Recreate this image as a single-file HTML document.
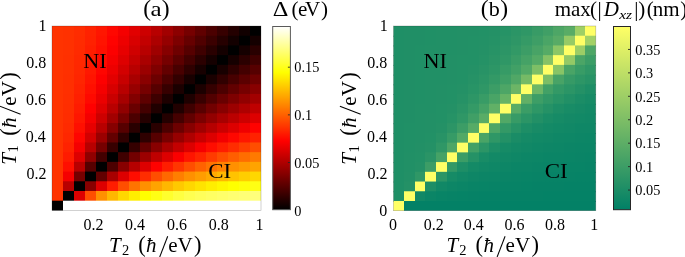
<!DOCTYPE html>
<html><head><meta charset="utf-8"><style>
html,body{margin:0;padding:0;background:#fff;width:685px;height:257px;overflow:hidden}
svg{display:block;will-change:transform}
text{font-family:"Liberation Serif",serif;fill:#000}
</style></head><body>
<svg width="685" height="257" viewBox="0 0 685 257">
<defs><linearGradient id="ga" x1="0" y1="0" x2="0" y2="1"><stop offset="0.0000" stop-color="#ffffff"/><stop offset="0.0208" stop-color="#ffffea"/><stop offset="0.0417" stop-color="#ffffd5"/><stop offset="0.0625" stop-color="#ffffbf"/><stop offset="0.0833" stop-color="#ffffaa"/><stop offset="0.1042" stop-color="#ffff95"/><stop offset="0.1250" stop-color="#ffff80"/><stop offset="0.1458" stop-color="#ffff6a"/><stop offset="0.1667" stop-color="#ffff55"/><stop offset="0.1875" stop-color="#ffff40"/><stop offset="0.2083" stop-color="#ffff2a"/><stop offset="0.2292" stop-color="#ffff15"/><stop offset="0.2500" stop-color="#ffff00"/><stop offset="0.2708" stop-color="#fff100"/><stop offset="0.2917" stop-color="#ffe300"/><stop offset="0.3125" stop-color="#ffd400"/><stop offset="0.3333" stop-color="#ffc600"/><stop offset="0.3542" stop-color="#ffb800"/><stop offset="0.3750" stop-color="#ffaa00"/><stop offset="0.3958" stop-color="#ff9c00"/><stop offset="0.4167" stop-color="#ff8e00"/><stop offset="0.4375" stop-color="#ff8000"/><stop offset="0.4583" stop-color="#ff7100"/><stop offset="0.4792" stop-color="#ff6300"/><stop offset="0.5000" stop-color="#ff5500"/><stop offset="0.5208" stop-color="#ff4700"/><stop offset="0.5417" stop-color="#ff3900"/><stop offset="0.5625" stop-color="#ff2b00"/><stop offset="0.5833" stop-color="#ff1c00"/><stop offset="0.6042" stop-color="#ff0e00"/><stop offset="0.6250" stop-color="#ff0000"/><stop offset="0.6458" stop-color="#f10000"/><stop offset="0.6667" stop-color="#e30000"/><stop offset="0.6875" stop-color="#d40000"/><stop offset="0.7083" stop-color="#c60000"/><stop offset="0.7292" stop-color="#b80000"/><stop offset="0.7500" stop-color="#aa0000"/><stop offset="0.7708" stop-color="#9c0000"/><stop offset="0.7917" stop-color="#8e0000"/><stop offset="0.8125" stop-color="#800000"/><stop offset="0.8333" stop-color="#710000"/><stop offset="0.8542" stop-color="#630000"/><stop offset="0.8750" stop-color="#550000"/><stop offset="0.8958" stop-color="#470000"/><stop offset="0.9167" stop-color="#390000"/><stop offset="0.9375" stop-color="#2a0000"/><stop offset="0.9583" stop-color="#1c0000"/><stop offset="0.9792" stop-color="#0e0000"/><stop offset="1.0000" stop-color="#000000"/></linearGradient><linearGradient id="gb" x1="0" y1="0" x2="0" y2="1"><stop offset="0.0000" stop-color="#ffff66"/><stop offset="0.1250" stop-color="#dfef66"/><stop offset="0.2500" stop-color="#bfdf66"/><stop offset="0.3750" stop-color="#9fcf66"/><stop offset="0.5000" stop-color="#80bf66"/><stop offset="0.6250" stop-color="#60af66"/><stop offset="0.7500" stop-color="#409f66"/><stop offset="0.8750" stop-color="#208f66"/><stop offset="1.0000" stop-color="#008066"/></linearGradient></defs>
<defs><linearGradient id="car0" gradientUnits="userSpaceOnUse" x1="52.00" y1="0" x2="261.00" y2="0"><stop offset="0.00000" stop-color="#ff3300"/><stop offset="0.05263" stop-color="#ff3300"/><stop offset="0.05263" stop-color="#ff3100"/><stop offset="0.10526" stop-color="#ff3100"/><stop offset="0.10526" stop-color="#ff2c00"/><stop offset="0.15789" stop-color="#ff2c00"/><stop offset="0.15789" stop-color="#ff2200"/><stop offset="0.21053" stop-color="#ff2200"/><stop offset="0.21053" stop-color="#ff1600"/><stop offset="0.26316" stop-color="#ff1600"/><stop offset="0.26316" stop-color="#ff0700"/><stop offset="0.31579" stop-color="#ff0700"/><stop offset="0.31579" stop-color="#f50000"/><stop offset="0.36842" stop-color="#f50000"/><stop offset="0.36842" stop-color="#e20000"/><stop offset="0.42105" stop-color="#e20000"/><stop offset="0.42105" stop-color="#cd0000"/><stop offset="0.47368" stop-color="#cd0000"/><stop offset="0.47368" stop-color="#b80000"/><stop offset="0.52632" stop-color="#b80000"/><stop offset="0.52632" stop-color="#a20000"/><stop offset="0.57895" stop-color="#a20000"/><stop offset="0.57895" stop-color="#8c0000"/><stop offset="0.63158" stop-color="#8c0000"/><stop offset="0.63158" stop-color="#760000"/><stop offset="0.68421" stop-color="#760000"/><stop offset="0.68421" stop-color="#600000"/><stop offset="0.73684" stop-color="#600000"/><stop offset="0.73684" stop-color="#4b0000"/><stop offset="0.78947" stop-color="#4b0000"/><stop offset="0.78947" stop-color="#370000"/><stop offset="0.84211" stop-color="#370000"/><stop offset="0.84211" stop-color="#240000"/><stop offset="0.89474" stop-color="#240000"/><stop offset="0.89474" stop-color="#110000"/><stop offset="0.94737" stop-color="#110000"/><stop offset="0.94737" stop-color="#000000"/><stop offset="1.00000" stop-color="#000000"/></linearGradient><linearGradient id="car1" gradientUnits="userSpaceOnUse" x1="52.00" y1="0" x2="261.00" y2="0"><stop offset="0.00000" stop-color="#ff3300"/><stop offset="0.05263" stop-color="#ff3300"/><stop offset="0.05263" stop-color="#ff3100"/><stop offset="0.10526" stop-color="#ff3100"/><stop offset="0.10526" stop-color="#ff2b00"/><stop offset="0.15789" stop-color="#ff2b00"/><stop offset="0.15789" stop-color="#ff2100"/><stop offset="0.21053" stop-color="#ff2100"/><stop offset="0.21053" stop-color="#ff1300"/><stop offset="0.26316" stop-color="#ff1300"/><stop offset="0.26316" stop-color="#ff0200"/><stop offset="0.31579" stop-color="#ff0200"/><stop offset="0.31579" stop-color="#ee0000"/><stop offset="0.36842" stop-color="#ee0000"/><stop offset="0.36842" stop-color="#d90000"/><stop offset="0.42105" stop-color="#d90000"/><stop offset="0.42105" stop-color="#c30000"/><stop offset="0.47368" stop-color="#c30000"/><stop offset="0.47368" stop-color="#ac0000"/><stop offset="0.52632" stop-color="#ac0000"/><stop offset="0.52632" stop-color="#950000"/><stop offset="0.57895" stop-color="#950000"/><stop offset="0.57895" stop-color="#7d0000"/><stop offset="0.63158" stop-color="#7d0000"/><stop offset="0.63158" stop-color="#660000"/><stop offset="0.68421" stop-color="#660000"/><stop offset="0.68421" stop-color="#500000"/><stop offset="0.73684" stop-color="#500000"/><stop offset="0.73684" stop-color="#3b0000"/><stop offset="0.78947" stop-color="#3b0000"/><stop offset="0.78947" stop-color="#260000"/><stop offset="0.84211" stop-color="#260000"/><stop offset="0.84211" stop-color="#130000"/><stop offset="0.89474" stop-color="#130000"/><stop offset="0.89474" stop-color="#000000"/><stop offset="0.94737" stop-color="#000000"/><stop offset="0.94737" stop-color="#140000"/><stop offset="1.00000" stop-color="#140000"/></linearGradient><linearGradient id="car2" gradientUnits="userSpaceOnUse" x1="52.00" y1="0" x2="261.00" y2="0"><stop offset="0.00000" stop-color="#ff3300"/><stop offset="0.05263" stop-color="#ff3300"/><stop offset="0.05263" stop-color="#ff3100"/><stop offset="0.10526" stop-color="#ff3100"/><stop offset="0.10526" stop-color="#ff2a00"/><stop offset="0.15789" stop-color="#ff2a00"/><stop offset="0.15789" stop-color="#ff1e00"/><stop offset="0.21053" stop-color="#ff1e00"/><stop offset="0.21053" stop-color="#ff0f00"/><stop offset="0.26316" stop-color="#ff0f00"/><stop offset="0.26316" stop-color="#fc0000"/><stop offset="0.31579" stop-color="#fc0000"/><stop offset="0.31579" stop-color="#e70000"/><stop offset="0.36842" stop-color="#e70000"/><stop offset="0.36842" stop-color="#d00000"/><stop offset="0.42105" stop-color="#d00000"/><stop offset="0.42105" stop-color="#b80000"/><stop offset="0.47368" stop-color="#b80000"/><stop offset="0.47368" stop-color="#9f0000"/><stop offset="0.52632" stop-color="#9f0000"/><stop offset="0.52632" stop-color="#860000"/><stop offset="0.57895" stop-color="#860000"/><stop offset="0.57895" stop-color="#6e0000"/><stop offset="0.63158" stop-color="#6e0000"/><stop offset="0.63158" stop-color="#560000"/><stop offset="0.68421" stop-color="#560000"/><stop offset="0.68421" stop-color="#3f0000"/><stop offset="0.73684" stop-color="#3f0000"/><stop offset="0.73684" stop-color="#290000"/><stop offset="0.78947" stop-color="#290000"/><stop offset="0.78947" stop-color="#140000"/><stop offset="0.84211" stop-color="#140000"/><stop offset="0.84211" stop-color="#000000"/><stop offset="0.89474" stop-color="#000000"/><stop offset="0.89474" stop-color="#150000"/><stop offset="0.94737" stop-color="#150000"/><stop offset="0.94737" stop-color="#290000"/><stop offset="1.00000" stop-color="#290000"/></linearGradient><linearGradient id="car3" gradientUnits="userSpaceOnUse" x1="52.00" y1="0" x2="261.00" y2="0"><stop offset="0.00000" stop-color="#ff3300"/><stop offset="0.05263" stop-color="#ff3300"/><stop offset="0.05263" stop-color="#ff3000"/><stop offset="0.10526" stop-color="#ff3000"/><stop offset="0.10526" stop-color="#ff2800"/><stop offset="0.15789" stop-color="#ff2800"/><stop offset="0.15789" stop-color="#ff1b00"/><stop offset="0.21053" stop-color="#ff1b00"/><stop offset="0.21053" stop-color="#ff0a00"/><stop offset="0.26316" stop-color="#ff0a00"/><stop offset="0.26316" stop-color="#f50000"/><stop offset="0.31579" stop-color="#f50000"/><stop offset="0.31579" stop-color="#de0000"/><stop offset="0.36842" stop-color="#de0000"/><stop offset="0.36842" stop-color="#c50000"/><stop offset="0.42105" stop-color="#c50000"/><stop offset="0.42105" stop-color="#aa0000"/><stop offset="0.47368" stop-color="#aa0000"/><stop offset="0.47368" stop-color="#900000"/><stop offset="0.52632" stop-color="#900000"/><stop offset="0.52632" stop-color="#760000"/><stop offset="0.57895" stop-color="#760000"/><stop offset="0.57895" stop-color="#5c0000"/><stop offset="0.63158" stop-color="#5c0000"/><stop offset="0.63158" stop-color="#430000"/><stop offset="0.68421" stop-color="#430000"/><stop offset="0.68421" stop-color="#2b0000"/><stop offset="0.73684" stop-color="#2b0000"/><stop offset="0.73684" stop-color="#150000"/><stop offset="0.78947" stop-color="#150000"/><stop offset="0.78947" stop-color="#000000"/><stop offset="0.84211" stop-color="#000000"/><stop offset="0.84211" stop-color="#160000"/><stop offset="0.89474" stop-color="#160000"/><stop offset="0.89474" stop-color="#2b0000"/><stop offset="0.94737" stop-color="#2b0000"/><stop offset="0.94737" stop-color="#3f0000"/><stop offset="1.00000" stop-color="#3f0000"/></linearGradient><linearGradient id="car4" gradientUnits="userSpaceOnUse" x1="52.00" y1="0" x2="261.00" y2="0"><stop offset="0.00000" stop-color="#ff3300"/><stop offset="0.05263" stop-color="#ff3300"/><stop offset="0.05263" stop-color="#ff3000"/><stop offset="0.10526" stop-color="#ff3000"/><stop offset="0.10526" stop-color="#ff2700"/><stop offset="0.15789" stop-color="#ff2700"/><stop offset="0.15789" stop-color="#ff1800"/><stop offset="0.21053" stop-color="#ff1800"/><stop offset="0.21053" stop-color="#ff0500"/><stop offset="0.26316" stop-color="#ff0500"/><stop offset="0.26316" stop-color="#ed0000"/><stop offset="0.31579" stop-color="#ed0000"/><stop offset="0.31579" stop-color="#d30000"/><stop offset="0.36842" stop-color="#d30000"/><stop offset="0.36842" stop-color="#b80000"/><stop offset="0.42105" stop-color="#b80000"/><stop offset="0.42105" stop-color="#9b0000"/><stop offset="0.47368" stop-color="#9b0000"/><stop offset="0.47368" stop-color="#7f0000"/><stop offset="0.52632" stop-color="#7f0000"/><stop offset="0.52632" stop-color="#630000"/><stop offset="0.57895" stop-color="#630000"/><stop offset="0.57895" stop-color="#480000"/><stop offset="0.63158" stop-color="#480000"/><stop offset="0.63158" stop-color="#2f0000"/><stop offset="0.68421" stop-color="#2f0000"/><stop offset="0.68421" stop-color="#170000"/><stop offset="0.73684" stop-color="#170000"/><stop offset="0.73684" stop-color="#000000"/><stop offset="0.78947" stop-color="#000000"/><stop offset="0.78947" stop-color="#180000"/><stop offset="0.84211" stop-color="#180000"/><stop offset="0.84211" stop-color="#2e0000"/><stop offset="0.89474" stop-color="#2e0000"/><stop offset="0.89474" stop-color="#430000"/><stop offset="0.94737" stop-color="#430000"/><stop offset="0.94737" stop-color="#560000"/><stop offset="1.00000" stop-color="#560000"/></linearGradient><linearGradient id="car5" gradientUnits="userSpaceOnUse" x1="52.00" y1="0" x2="261.00" y2="0"><stop offset="0.00000" stop-color="#ff3300"/><stop offset="0.05263" stop-color="#ff3300"/><stop offset="0.05263" stop-color="#ff2f00"/><stop offset="0.10526" stop-color="#ff2f00"/><stop offset="0.10526" stop-color="#ff2500"/><stop offset="0.15789" stop-color="#ff2500"/><stop offset="0.15789" stop-color="#ff1400"/><stop offset="0.21053" stop-color="#ff1400"/><stop offset="0.21053" stop-color="#fd0000"/><stop offset="0.26316" stop-color="#fd0000"/><stop offset="0.26316" stop-color="#e30000"/><stop offset="0.31579" stop-color="#e30000"/><stop offset="0.31579" stop-color="#c70000"/><stop offset="0.36842" stop-color="#c70000"/><stop offset="0.36842" stop-color="#a80000"/><stop offset="0.42105" stop-color="#a80000"/><stop offset="0.42105" stop-color="#8a0000"/><stop offset="0.47368" stop-color="#8a0000"/><stop offset="0.47368" stop-color="#6c0000"/><stop offset="0.52632" stop-color="#6c0000"/><stop offset="0.52632" stop-color="#4e0000"/><stop offset="0.57895" stop-color="#4e0000"/><stop offset="0.57895" stop-color="#330000"/><stop offset="0.63158" stop-color="#330000"/><stop offset="0.63158" stop-color="#180000"/><stop offset="0.68421" stop-color="#180000"/><stop offset="0.68421" stop-color="#000000"/><stop offset="0.73684" stop-color="#000000"/><stop offset="0.73684" stop-color="#1a0000"/><stop offset="0.78947" stop-color="#1a0000"/><stop offset="0.78947" stop-color="#310000"/><stop offset="0.84211" stop-color="#310000"/><stop offset="0.84211" stop-color="#470000"/><stop offset="0.89474" stop-color="#470000"/><stop offset="0.89474" stop-color="#5b0000"/><stop offset="0.94737" stop-color="#5b0000"/><stop offset="0.94737" stop-color="#6e0000"/><stop offset="1.00000" stop-color="#6e0000"/></linearGradient><linearGradient id="car6" gradientUnits="userSpaceOnUse" x1="52.00" y1="0" x2="261.00" y2="0"><stop offset="0.00000" stop-color="#ff3300"/><stop offset="0.05263" stop-color="#ff3300"/><stop offset="0.05263" stop-color="#ff2f00"/><stop offset="0.10526" stop-color="#ff2f00"/><stop offset="0.10526" stop-color="#ff2200"/><stop offset="0.15789" stop-color="#ff2200"/><stop offset="0.15789" stop-color="#ff0f00"/><stop offset="0.21053" stop-color="#ff0f00"/><stop offset="0.21053" stop-color="#f50000"/><stop offset="0.26316" stop-color="#f50000"/><stop offset="0.26316" stop-color="#d70000"/><stop offset="0.31579" stop-color="#d70000"/><stop offset="0.31579" stop-color="#b80000"/><stop offset="0.36842" stop-color="#b80000"/><stop offset="0.36842" stop-color="#970000"/><stop offset="0.42105" stop-color="#970000"/><stop offset="0.42105" stop-color="#760000"/><stop offset="0.47368" stop-color="#760000"/><stop offset="0.47368" stop-color="#560000"/><stop offset="0.52632" stop-color="#560000"/><stop offset="0.52632" stop-color="#370000"/><stop offset="0.57895" stop-color="#370000"/><stop offset="0.57895" stop-color="#1b0000"/><stop offset="0.63158" stop-color="#1b0000"/><stop offset="0.63158" stop-color="#000000"/><stop offset="0.68421" stop-color="#000000"/><stop offset="0.68421" stop-color="#1c0000"/><stop offset="0.73684" stop-color="#1c0000"/><stop offset="0.73684" stop-color="#350000"/><stop offset="0.78947" stop-color="#350000"/><stop offset="0.78947" stop-color="#4c0000"/><stop offset="0.84211" stop-color="#4c0000"/><stop offset="0.84211" stop-color="#620000"/><stop offset="0.89474" stop-color="#620000"/><stop offset="0.89474" stop-color="#760000"/><stop offset="0.94737" stop-color="#760000"/><stop offset="0.94737" stop-color="#880000"/><stop offset="1.00000" stop-color="#880000"/></linearGradient><linearGradient id="car7" gradientUnits="userSpaceOnUse" x1="52.00" y1="0" x2="261.00" y2="0"><stop offset="0.00000" stop-color="#ff3300"/><stop offset="0.05263" stop-color="#ff3300"/><stop offset="0.05263" stop-color="#ff2e00"/><stop offset="0.10526" stop-color="#ff2e00"/><stop offset="0.10526" stop-color="#ff1f00"/><stop offset="0.15789" stop-color="#ff1f00"/><stop offset="0.15789" stop-color="#ff0900"/><stop offset="0.21053" stop-color="#ff0900"/><stop offset="0.21053" stop-color="#eb0000"/><stop offset="0.26316" stop-color="#eb0000"/><stop offset="0.26316" stop-color="#c90000"/><stop offset="0.31579" stop-color="#c90000"/><stop offset="0.31579" stop-color="#a60000"/><stop offset="0.36842" stop-color="#a60000"/><stop offset="0.36842" stop-color="#820000"/><stop offset="0.42105" stop-color="#820000"/><stop offset="0.42105" stop-color="#5e0000"/><stop offset="0.47368" stop-color="#5e0000"/><stop offset="0.47368" stop-color="#3d0000"/><stop offset="0.52632" stop-color="#3d0000"/><stop offset="0.52632" stop-color="#1d0000"/><stop offset="0.57895" stop-color="#1d0000"/><stop offset="0.57895" stop-color="#000000"/><stop offset="0.63158" stop-color="#000000"/><stop offset="0.63158" stop-color="#1e0000"/><stop offset="0.68421" stop-color="#1e0000"/><stop offset="0.68421" stop-color="#390000"/><stop offset="0.73684" stop-color="#390000"/><stop offset="0.73684" stop-color="#520000"/><stop offset="0.78947" stop-color="#520000"/><stop offset="0.78947" stop-color="#690000"/><stop offset="0.84211" stop-color="#690000"/><stop offset="0.84211" stop-color="#7e0000"/><stop offset="0.89474" stop-color="#7e0000"/><stop offset="0.89474" stop-color="#910000"/><stop offset="0.94737" stop-color="#910000"/><stop offset="0.94737" stop-color="#a20000"/><stop offset="1.00000" stop-color="#a20000"/></linearGradient><linearGradient id="car8" gradientUnits="userSpaceOnUse" x1="52.00" y1="0" x2="261.00" y2="0"><stop offset="0.00000" stop-color="#ff3300"/><stop offset="0.05263" stop-color="#ff3300"/><stop offset="0.05263" stop-color="#ff2d00"/><stop offset="0.10526" stop-color="#ff2d00"/><stop offset="0.10526" stop-color="#ff1b00"/><stop offset="0.15789" stop-color="#ff1b00"/><stop offset="0.15789" stop-color="#ff0000"/><stop offset="0.21053" stop-color="#ff0000"/><stop offset="0.21053" stop-color="#de0000"/><stop offset="0.26316" stop-color="#de0000"/><stop offset="0.26316" stop-color="#b80000"/><stop offset="0.31579" stop-color="#b80000"/><stop offset="0.31579" stop-color="#900000"/><stop offset="0.36842" stop-color="#900000"/><stop offset="0.36842" stop-color="#690000"/><stop offset="0.42105" stop-color="#690000"/><stop offset="0.42105" stop-color="#430000"/><stop offset="0.47368" stop-color="#430000"/><stop offset="0.47368" stop-color="#200000"/><stop offset="0.52632" stop-color="#200000"/><stop offset="0.52632" stop-color="#000000"/><stop offset="0.57895" stop-color="#000000"/><stop offset="0.57895" stop-color="#210000"/><stop offset="0.63158" stop-color="#210000"/><stop offset="0.63158" stop-color="#3f0000"/><stop offset="0.68421" stop-color="#3f0000"/><stop offset="0.68421" stop-color="#590000"/><stop offset="0.73684" stop-color="#590000"/><stop offset="0.73684" stop-color="#720000"/><stop offset="0.78947" stop-color="#720000"/><stop offset="0.78947" stop-color="#880000"/><stop offset="0.84211" stop-color="#880000"/><stop offset="0.84211" stop-color="#9c0000"/><stop offset="0.89474" stop-color="#9c0000"/><stop offset="0.89474" stop-color="#ae0000"/><stop offset="0.94737" stop-color="#ae0000"/><stop offset="0.94737" stop-color="#bf0000"/><stop offset="1.00000" stop-color="#bf0000"/></linearGradient><linearGradient id="car9" gradientUnits="userSpaceOnUse" x1="52.00" y1="0" x2="261.00" y2="0"><stop offset="0.00000" stop-color="#ff3300"/><stop offset="0.05263" stop-color="#ff3300"/><stop offset="0.05263" stop-color="#ff2c00"/><stop offset="0.10526" stop-color="#ff2c00"/><stop offset="0.10526" stop-color="#ff1600"/><stop offset="0.15789" stop-color="#ff1600"/><stop offset="0.15789" stop-color="#f50000"/><stop offset="0.21053" stop-color="#f50000"/><stop offset="0.21053" stop-color="#cd0000"/><stop offset="0.26316" stop-color="#cd0000"/><stop offset="0.26316" stop-color="#a20000"/><stop offset="0.31579" stop-color="#a20000"/><stop offset="0.31579" stop-color="#760000"/><stop offset="0.36842" stop-color="#760000"/><stop offset="0.36842" stop-color="#4b0000"/><stop offset="0.42105" stop-color="#4b0000"/><stop offset="0.42105" stop-color="#240000"/><stop offset="0.47368" stop-color="#240000"/><stop offset="0.47368" stop-color="#000000"/><stop offset="0.52632" stop-color="#000000"/><stop offset="0.52632" stop-color="#240000"/><stop offset="0.57895" stop-color="#240000"/><stop offset="0.57895" stop-color="#450000"/><stop offset="0.63158" stop-color="#450000"/><stop offset="0.63158" stop-color="#620000"/><stop offset="0.68421" stop-color="#620000"/><stop offset="0.68421" stop-color="#7c0000"/><stop offset="0.73684" stop-color="#7c0000"/><stop offset="0.73684" stop-color="#930000"/><stop offset="0.78947" stop-color="#930000"/><stop offset="0.78947" stop-color="#a80000"/><stop offset="0.84211" stop-color="#a80000"/><stop offset="0.84211" stop-color="#bb0000"/><stop offset="0.89474" stop-color="#bb0000"/><stop offset="0.89474" stop-color="#cd0000"/><stop offset="0.94737" stop-color="#cd0000"/><stop offset="0.94737" stop-color="#dd0000"/><stop offset="1.00000" stop-color="#dd0000"/></linearGradient><linearGradient id="car10" gradientUnits="userSpaceOnUse" x1="52.00" y1="0" x2="261.00" y2="0"><stop offset="0.00000" stop-color="#ff3300"/><stop offset="0.05263" stop-color="#ff3300"/><stop offset="0.05263" stop-color="#ff2a00"/><stop offset="0.10526" stop-color="#ff2a00"/><stop offset="0.10526" stop-color="#ff0f00"/><stop offset="0.15789" stop-color="#ff0f00"/><stop offset="0.15789" stop-color="#e70000"/><stop offset="0.21053" stop-color="#e70000"/><stop offset="0.21053" stop-color="#b80000"/><stop offset="0.26316" stop-color="#b80000"/><stop offset="0.26316" stop-color="#860000"/><stop offset="0.31579" stop-color="#860000"/><stop offset="0.31579" stop-color="#560000"/><stop offset="0.36842" stop-color="#560000"/><stop offset="0.36842" stop-color="#290000"/><stop offset="0.42105" stop-color="#290000"/><stop offset="0.42105" stop-color="#000000"/><stop offset="0.47368" stop-color="#000000"/><stop offset="0.47368" stop-color="#290000"/><stop offset="0.52632" stop-color="#290000"/><stop offset="0.52632" stop-color="#4c0000"/><stop offset="0.57895" stop-color="#4c0000"/><stop offset="0.57895" stop-color="#6c0000"/><stop offset="0.63158" stop-color="#6c0000"/><stop offset="0.63158" stop-color="#880000"/><stop offset="0.68421" stop-color="#880000"/><stop offset="0.68421" stop-color="#a00000"/><stop offset="0.73684" stop-color="#a00000"/><stop offset="0.73684" stop-color="#b60000"/><stop offset="0.78947" stop-color="#b60000"/><stop offset="0.78947" stop-color="#cb0000"/><stop offset="0.84211" stop-color="#cb0000"/><stop offset="0.84211" stop-color="#dd0000"/><stop offset="0.89474" stop-color="#dd0000"/><stop offset="0.89474" stop-color="#f00000"/><stop offset="0.94737" stop-color="#f00000"/><stop offset="0.94737" stop-color="#ff0200"/><stop offset="1.00000" stop-color="#ff0200"/></linearGradient><linearGradient id="car11" gradientUnits="userSpaceOnUse" x1="52.00" y1="0" x2="261.00" y2="0"><stop offset="0.00000" stop-color="#ff3300"/><stop offset="0.05263" stop-color="#ff3300"/><stop offset="0.05263" stop-color="#ff2700"/><stop offset="0.10526" stop-color="#ff2700"/><stop offset="0.10526" stop-color="#ff0500"/><stop offset="0.15789" stop-color="#ff0500"/><stop offset="0.15789" stop-color="#d30000"/><stop offset="0.21053" stop-color="#d30000"/><stop offset="0.21053" stop-color="#9b0000"/><stop offset="0.26316" stop-color="#9b0000"/><stop offset="0.26316" stop-color="#630000"/><stop offset="0.31579" stop-color="#630000"/><stop offset="0.31579" stop-color="#2f0000"/><stop offset="0.36842" stop-color="#2f0000"/><stop offset="0.36842" stop-color="#000000"/><stop offset="0.42105" stop-color="#000000"/><stop offset="0.42105" stop-color="#2e0000"/><stop offset="0.47368" stop-color="#2e0000"/><stop offset="0.47368" stop-color="#560000"/><stop offset="0.52632" stop-color="#560000"/><stop offset="0.52632" stop-color="#780000"/><stop offset="0.57895" stop-color="#780000"/><stop offset="0.57895" stop-color="#960000"/><stop offset="0.63158" stop-color="#960000"/><stop offset="0.63158" stop-color="#b00000"/><stop offset="0.68421" stop-color="#b00000"/><stop offset="0.68421" stop-color="#c80000"/><stop offset="0.73684" stop-color="#c80000"/><stop offset="0.73684" stop-color="#dd0000"/><stop offset="0.78947" stop-color="#dd0000"/><stop offset="0.78947" stop-color="#f30000"/><stop offset="0.84211" stop-color="#f30000"/><stop offset="0.84211" stop-color="#ff0700"/><stop offset="0.89474" stop-color="#ff0700"/><stop offset="0.89474" stop-color="#ff1700"/><stop offset="0.94737" stop-color="#ff1700"/><stop offset="0.94737" stop-color="#ff2200"/><stop offset="1.00000" stop-color="#ff2200"/></linearGradient><linearGradient id="car12" gradientUnits="userSpaceOnUse" x1="52.00" y1="0" x2="261.00" y2="0"><stop offset="0.00000" stop-color="#ff3300"/><stop offset="0.05263" stop-color="#ff3300"/><stop offset="0.05263" stop-color="#ff2200"/><stop offset="0.10526" stop-color="#ff2200"/><stop offset="0.10526" stop-color="#f50000"/><stop offset="0.15789" stop-color="#f50000"/><stop offset="0.15789" stop-color="#b80000"/><stop offset="0.21053" stop-color="#b80000"/><stop offset="0.21053" stop-color="#760000"/><stop offset="0.26316" stop-color="#760000"/><stop offset="0.26316" stop-color="#370000"/><stop offset="0.31579" stop-color="#370000"/><stop offset="0.31579" stop-color="#000000"/><stop offset="0.36842" stop-color="#000000"/><stop offset="0.36842" stop-color="#350000"/><stop offset="0.42105" stop-color="#350000"/><stop offset="0.42105" stop-color="#620000"/><stop offset="0.47368" stop-color="#620000"/><stop offset="0.47368" stop-color="#880000"/><stop offset="0.52632" stop-color="#880000"/><stop offset="0.52632" stop-color="#a80000"/><stop offset="0.57895" stop-color="#a80000"/><stop offset="0.57895" stop-color="#c40000"/><stop offset="0.63158" stop-color="#c40000"/><stop offset="0.63158" stop-color="#dd0000"/><stop offset="0.68421" stop-color="#dd0000"/><stop offset="0.68421" stop-color="#f60000"/><stop offset="0.73684" stop-color="#f60000"/><stop offset="0.73684" stop-color="#ff0d00"/><stop offset="0.78947" stop-color="#ff0d00"/><stop offset="0.78947" stop-color="#ff1d00"/><stop offset="0.84211" stop-color="#ff1d00"/><stop offset="0.84211" stop-color="#ff2d00"/><stop offset="0.89474" stop-color="#ff2d00"/><stop offset="0.89474" stop-color="#ff3e00"/><stop offset="0.94737" stop-color="#ff3e00"/><stop offset="0.94737" stop-color="#ff4e00"/><stop offset="1.00000" stop-color="#ff4e00"/></linearGradient><linearGradient id="car13" gradientUnits="userSpaceOnUse" x1="52.00" y1="0" x2="261.00" y2="0"><stop offset="0.00000" stop-color="#ff3300"/><stop offset="0.05263" stop-color="#ff3300"/><stop offset="0.05263" stop-color="#ff1b00"/><stop offset="0.10526" stop-color="#ff1b00"/><stop offset="0.10526" stop-color="#de0000"/><stop offset="0.15789" stop-color="#de0000"/><stop offset="0.15789" stop-color="#900000"/><stop offset="0.21053" stop-color="#900000"/><stop offset="0.21053" stop-color="#430000"/><stop offset="0.26316" stop-color="#430000"/><stop offset="0.26316" stop-color="#000000"/><stop offset="0.31579" stop-color="#000000"/><stop offset="0.31579" stop-color="#3f0000"/><stop offset="0.36842" stop-color="#3f0000"/><stop offset="0.36842" stop-color="#720000"/><stop offset="0.42105" stop-color="#720000"/><stop offset="0.42105" stop-color="#9c0000"/><stop offset="0.47368" stop-color="#9c0000"/><stop offset="0.47368" stop-color="#bf0000"/><stop offset="0.52632" stop-color="#bf0000"/><stop offset="0.52632" stop-color="#dd0000"/><stop offset="0.57895" stop-color="#dd0000"/><stop offset="0.57895" stop-color="#fb0000"/><stop offset="0.63158" stop-color="#fb0000"/><stop offset="0.63158" stop-color="#ff1500"/><stop offset="0.68421" stop-color="#ff1500"/><stop offset="0.68421" stop-color="#ff2500"/><stop offset="0.73684" stop-color="#ff2500"/><stop offset="0.73684" stop-color="#ff3b00"/><stop offset="0.78947" stop-color="#ff3b00"/><stop offset="0.78947" stop-color="#ff4e00"/><stop offset="0.84211" stop-color="#ff4e00"/><stop offset="0.84211" stop-color="#ff5e00"/><stop offset="0.89474" stop-color="#ff5e00"/><stop offset="0.89474" stop-color="#ff6d00"/><stop offset="0.94737" stop-color="#ff6d00"/><stop offset="0.94737" stop-color="#ff7a00"/><stop offset="1.00000" stop-color="#ff7a00"/></linearGradient><linearGradient id="car14" gradientUnits="userSpaceOnUse" x1="52.00" y1="0" x2="261.00" y2="0"><stop offset="0.00000" stop-color="#ff3300"/><stop offset="0.05263" stop-color="#ff3300"/><stop offset="0.05263" stop-color="#ff0f00"/><stop offset="0.10526" stop-color="#ff0f00"/><stop offset="0.10526" stop-color="#b80000"/><stop offset="0.15789" stop-color="#b80000"/><stop offset="0.15789" stop-color="#560000"/><stop offset="0.21053" stop-color="#560000"/><stop offset="0.21053" stop-color="#000000"/><stop offset="0.26316" stop-color="#000000"/><stop offset="0.26316" stop-color="#4c0000"/><stop offset="0.31579" stop-color="#4c0000"/><stop offset="0.31579" stop-color="#880000"/><stop offset="0.36842" stop-color="#880000"/><stop offset="0.36842" stop-color="#b60000"/><stop offset="0.42105" stop-color="#b60000"/><stop offset="0.42105" stop-color="#dd0000"/><stop offset="0.47368" stop-color="#dd0000"/><stop offset="0.47368" stop-color="#ff0200"/><stop offset="0.52632" stop-color="#ff0200"/><stop offset="0.52632" stop-color="#ff1d00"/><stop offset="0.57895" stop-color="#ff1d00"/><stop offset="0.57895" stop-color="#ff3600"/><stop offset="0.63158" stop-color="#ff3600"/><stop offset="0.63158" stop-color="#ff4e00"/><stop offset="0.68421" stop-color="#ff4e00"/><stop offset="0.68421" stop-color="#ff6200"/><stop offset="0.73684" stop-color="#ff6200"/><stop offset="0.73684" stop-color="#ff7300"/><stop offset="0.78947" stop-color="#ff7300"/><stop offset="0.78947" stop-color="#ff8300"/><stop offset="0.84211" stop-color="#ff8300"/><stop offset="0.84211" stop-color="#ff9000"/><stop offset="0.89474" stop-color="#ff9000"/><stop offset="0.89474" stop-color="#ff9a00"/><stop offset="0.94737" stop-color="#ff9a00"/><stop offset="0.94737" stop-color="#ffa300"/><stop offset="1.00000" stop-color="#ffa300"/></linearGradient><linearGradient id="car15" gradientUnits="userSpaceOnUse" x1="52.00" y1="0" x2="261.00" y2="0"><stop offset="0.00000" stop-color="#ff3300"/><stop offset="0.05263" stop-color="#ff3300"/><stop offset="0.05263" stop-color="#f50000"/><stop offset="0.10526" stop-color="#f50000"/><stop offset="0.10526" stop-color="#760000"/><stop offset="0.15789" stop-color="#760000"/><stop offset="0.15789" stop-color="#000000"/><stop offset="0.21053" stop-color="#000000"/><stop offset="0.21053" stop-color="#620000"/><stop offset="0.26316" stop-color="#620000"/><stop offset="0.26316" stop-color="#a80000"/><stop offset="0.31579" stop-color="#a80000"/><stop offset="0.31579" stop-color="#dd0000"/><stop offset="0.36842" stop-color="#dd0000"/><stop offset="0.36842" stop-color="#ff0d00"/><stop offset="0.42105" stop-color="#ff0d00"/><stop offset="0.42105" stop-color="#ff2d00"/><stop offset="0.47368" stop-color="#ff2d00"/><stop offset="0.47368" stop-color="#ff4e00"/><stop offset="0.52632" stop-color="#ff4e00"/><stop offset="0.52632" stop-color="#ff6800"/><stop offset="0.57895" stop-color="#ff6800"/><stop offset="0.57895" stop-color="#ff7e00"/><stop offset="0.63158" stop-color="#ff7e00"/><stop offset="0.63158" stop-color="#ff9000"/><stop offset="0.68421" stop-color="#ff9000"/><stop offset="0.68421" stop-color="#ff9d00"/><stop offset="0.73684" stop-color="#ff9d00"/><stop offset="0.73684" stop-color="#ffaa00"/><stop offset="0.78947" stop-color="#ffaa00"/><stop offset="0.78947" stop-color="#ffb700"/><stop offset="0.84211" stop-color="#ffb700"/><stop offset="0.84211" stop-color="#ffc300"/><stop offset="0.89474" stop-color="#ffc300"/><stop offset="0.89474" stop-color="#ffce00"/><stop offset="0.94737" stop-color="#ffce00"/><stop offset="0.94737" stop-color="#ffd700"/><stop offset="1.00000" stop-color="#ffd700"/></linearGradient><linearGradient id="car16" gradientUnits="userSpaceOnUse" x1="52.00" y1="0" x2="261.00" y2="0"><stop offset="0.00000" stop-color="#ff3300"/><stop offset="0.05263" stop-color="#ff3300"/><stop offset="0.05263" stop-color="#b80000"/><stop offset="0.10526" stop-color="#b80000"/><stop offset="0.10526" stop-color="#000000"/><stop offset="0.15789" stop-color="#000000"/><stop offset="0.15789" stop-color="#880000"/><stop offset="0.21053" stop-color="#880000"/><stop offset="0.21053" stop-color="#dd0000"/><stop offset="0.26316" stop-color="#dd0000"/><stop offset="0.26316" stop-color="#ff1d00"/><stop offset="0.31579" stop-color="#ff1d00"/><stop offset="0.31579" stop-color="#ff4e00"/><stop offset="0.36842" stop-color="#ff4e00"/><stop offset="0.36842" stop-color="#ff7300"/><stop offset="0.42105" stop-color="#ff7300"/><stop offset="0.42105" stop-color="#ff9000"/><stop offset="0.47368" stop-color="#ff9000"/><stop offset="0.47368" stop-color="#ffa300"/><stop offset="0.52632" stop-color="#ffa300"/><stop offset="0.52632" stop-color="#ffb700"/><stop offset="0.57895" stop-color="#ffb700"/><stop offset="0.57895" stop-color="#ffc900"/><stop offset="0.63158" stop-color="#ffc900"/><stop offset="0.63158" stop-color="#ffd700"/><stop offset="0.68421" stop-color="#ffd700"/><stop offset="0.68421" stop-color="#ffe300"/><stop offset="0.73684" stop-color="#ffe300"/><stop offset="0.73684" stop-color="#ffee00"/><stop offset="0.78947" stop-color="#ffee00"/><stop offset="0.78947" stop-color="#fff700"/><stop offset="0.84211" stop-color="#fff700"/><stop offset="0.84211" stop-color="#ffff00"/><stop offset="0.89474" stop-color="#ffff00"/><stop offset="0.89474" stop-color="#ffff0b"/><stop offset="0.94737" stop-color="#ffff0b"/><stop offset="0.94737" stop-color="#ffff14"/><stop offset="1.00000" stop-color="#ffff14"/></linearGradient><linearGradient id="car17" gradientUnits="userSpaceOnUse" x1="52.00" y1="0" x2="261.00" y2="0"><stop offset="0.00000" stop-color="#ff3300"/><stop offset="0.05263" stop-color="#ff3300"/><stop offset="0.05263" stop-color="#000000"/><stop offset="0.10526" stop-color="#000000"/><stop offset="0.10526" stop-color="#dd0000"/><stop offset="0.15789" stop-color="#dd0000"/><stop offset="0.15789" stop-color="#ff4e00"/><stop offset="0.21053" stop-color="#ff4e00"/><stop offset="0.21053" stop-color="#ff9000"/><stop offset="0.26316" stop-color="#ff9000"/><stop offset="0.26316" stop-color="#ffb700"/><stop offset="0.31579" stop-color="#ffb700"/><stop offset="0.31579" stop-color="#ffd700"/><stop offset="0.36842" stop-color="#ffd700"/><stop offset="0.36842" stop-color="#ffee00"/><stop offset="0.42105" stop-color="#ffee00"/><stop offset="0.42105" stop-color="#ffff00"/><stop offset="0.47368" stop-color="#ffff00"/><stop offset="0.47368" stop-color="#ffff14"/><stop offset="0.52632" stop-color="#ffff14"/><stop offset="0.52632" stop-color="#ffff2d"/><stop offset="0.57895" stop-color="#ffff2d"/><stop offset="0.57895" stop-color="#ffff41"/><stop offset="0.63158" stop-color="#ffff41"/><stop offset="0.63158" stop-color="#ffff51"/><stop offset="0.68421" stop-color="#ffff51"/><stop offset="0.68421" stop-color="#ffff5b"/><stop offset="0.73684" stop-color="#ffff5b"/><stop offset="0.73684" stop-color="#ffff63"/><stop offset="0.78947" stop-color="#ffff63"/><stop offset="0.78947" stop-color="#ffff6a"/><stop offset="0.84211" stop-color="#ffff6a"/><stop offset="0.84211" stop-color="#ffff71"/><stop offset="0.89474" stop-color="#ffff71"/><stop offset="0.89474" stop-color="#ffff76"/><stop offset="0.94737" stop-color="#ffff76"/><stop offset="0.94737" stop-color="#ffff7b"/><stop offset="1.00000" stop-color="#ffff7b"/></linearGradient><linearGradient id="car18" gradientUnits="userSpaceOnUse" x1="52.00" y1="0" x2="261.00" y2="0"><stop offset="0.00000" stop-color="#000000"/><stop offset="0.05263" stop-color="#000000"/><stop offset="0.05263" stop-color="#ffffff"/><stop offset="0.10526" stop-color="#ffffff"/><stop offset="0.10526" stop-color="#ffffff"/><stop offset="0.15789" stop-color="#ffffff"/><stop offset="0.15789" stop-color="#ffffff"/><stop offset="0.21053" stop-color="#ffffff"/><stop offset="0.21053" stop-color="#ffffff"/><stop offset="0.26316" stop-color="#ffffff"/><stop offset="0.26316" stop-color="#ffffff"/><stop offset="0.31579" stop-color="#ffffff"/><stop offset="0.31579" stop-color="#ffffff"/><stop offset="0.36842" stop-color="#ffffff"/><stop offset="0.36842" stop-color="#ffffff"/><stop offset="0.42105" stop-color="#ffffff"/><stop offset="0.42105" stop-color="#ffffff"/><stop offset="0.47368" stop-color="#ffffff"/><stop offset="0.47368" stop-color="#ffffff"/><stop offset="0.52632" stop-color="#ffffff"/><stop offset="0.52632" stop-color="#ffffff"/><stop offset="0.57895" stop-color="#ffffff"/><stop offset="0.57895" stop-color="#ffffff"/><stop offset="0.63158" stop-color="#ffffff"/><stop offset="0.63158" stop-color="#ffffff"/><stop offset="0.68421" stop-color="#ffffff"/><stop offset="0.68421" stop-color="#ffffff"/><stop offset="0.73684" stop-color="#ffffff"/><stop offset="0.73684" stop-color="#ffffff"/><stop offset="0.78947" stop-color="#ffffff"/><stop offset="0.78947" stop-color="#ffffff"/><stop offset="0.84211" stop-color="#ffffff"/><stop offset="0.84211" stop-color="#ffffff"/><stop offset="0.89474" stop-color="#ffffff"/><stop offset="0.89474" stop-color="#ffffff"/><stop offset="0.94737" stop-color="#ffffff"/><stop offset="0.94737" stop-color="#ffffff"/><stop offset="1.00000" stop-color="#ffffff"/></linearGradient></defs>
<clipPath id="ca"><rect x="52.00" y="26.00" width="209.00" height="184.40"/></clipPath>
<g clip-path="url(#ca)">
<rect x="51.00" y="25.00" width="211.00" height="11.71" fill="url(#car0)"/>
<rect x="51.00" y="35.71" width="211.00" height="10.71" fill="url(#car1)"/>
<rect x="51.00" y="45.41" width="211.00" height="10.71" fill="url(#car2)"/>
<rect x="51.00" y="55.12" width="211.00" height="10.71" fill="url(#car3)"/>
<rect x="51.00" y="64.82" width="211.00" height="10.71" fill="url(#car4)"/>
<rect x="51.00" y="74.53" width="211.00" height="10.71" fill="url(#car5)"/>
<rect x="51.00" y="84.23" width="211.00" height="10.71" fill="url(#car6)"/>
<rect x="51.00" y="93.94" width="211.00" height="10.71" fill="url(#car7)"/>
<rect x="51.00" y="103.64" width="211.00" height="10.71" fill="url(#car8)"/>
<rect x="51.00" y="113.35" width="211.00" height="10.71" fill="url(#car9)"/>
<rect x="51.00" y="123.05" width="211.00" height="10.71" fill="url(#car10)"/>
<rect x="51.00" y="132.76" width="211.00" height="10.71" fill="url(#car11)"/>
<rect x="51.00" y="142.46" width="211.00" height="10.71" fill="url(#car12)"/>
<rect x="51.00" y="152.17" width="211.00" height="10.71" fill="url(#car13)"/>
<rect x="51.00" y="161.87" width="211.00" height="10.71" fill="url(#car14)"/>
<rect x="51.00" y="171.58" width="211.00" height="10.71" fill="url(#car15)"/>
<rect x="51.00" y="181.28" width="211.00" height="10.71" fill="url(#car16)"/>
<rect x="51.00" y="190.99" width="211.00" height="10.71" fill="url(#car17)"/>
<rect x="51.00" y="200.69" width="211.00" height="10.71" fill="url(#car18)"/>
</g>
<defs><linearGradient id="cbr0" gradientUnits="userSpaceOnUse" x1="393.50" y1="0" x2="595.80" y2="0"><stop offset="0.00000" stop-color="#1f8f66"/><stop offset="0.05263" stop-color="#1f8f66"/><stop offset="0.05263" stop-color="#208f66"/><stop offset="0.10526" stop-color="#208f66"/><stop offset="0.10526" stop-color="#208f66"/><stop offset="0.15789" stop-color="#208f66"/><stop offset="0.15789" stop-color="#209066"/><stop offset="0.21053" stop-color="#209066"/><stop offset="0.21053" stop-color="#219066"/><stop offset="0.26316" stop-color="#219066"/><stop offset="0.26316" stop-color="#219066"/><stop offset="0.31579" stop-color="#219066"/><stop offset="0.31579" stop-color="#229066"/><stop offset="0.36842" stop-color="#229066"/><stop offset="0.36842" stop-color="#229066"/><stop offset="0.42105" stop-color="#229066"/><stop offset="0.42105" stop-color="#229166"/><stop offset="0.47368" stop-color="#229166"/><stop offset="0.47368" stop-color="#249166"/><stop offset="0.52632" stop-color="#249166"/><stop offset="0.52632" stop-color="#269366"/><stop offset="0.57895" stop-color="#269366"/><stop offset="0.57895" stop-color="#2b9566"/><stop offset="0.63158" stop-color="#2b9566"/><stop offset="0.63158" stop-color="#2f9766"/><stop offset="0.68421" stop-color="#2f9766"/><stop offset="0.68421" stop-color="#389b66"/><stop offset="0.73684" stop-color="#389b66"/><stop offset="0.73684" stop-color="#409f66"/><stop offset="0.78947" stop-color="#409f66"/><stop offset="0.78947" stop-color="#4da666"/><stop offset="0.84211" stop-color="#4da666"/><stop offset="0.84211" stop-color="#59ac66"/><stop offset="0.89474" stop-color="#59ac66"/><stop offset="0.89474" stop-color="#9ecf66"/><stop offset="0.94737" stop-color="#9ecf66"/><stop offset="0.94737" stop-color="#ffff66"/><stop offset="1.00000" stop-color="#ffff66"/></linearGradient><linearGradient id="cbr1" gradientUnits="userSpaceOnUse" x1="393.50" y1="0" x2="595.80" y2="0"><stop offset="0.00000" stop-color="#1f8f66"/><stop offset="0.05263" stop-color="#1f8f66"/><stop offset="0.05263" stop-color="#208f66"/><stop offset="0.10526" stop-color="#208f66"/><stop offset="0.10526" stop-color="#208f66"/><stop offset="0.15789" stop-color="#208f66"/><stop offset="0.15789" stop-color="#209066"/><stop offset="0.21053" stop-color="#209066"/><stop offset="0.21053" stop-color="#219066"/><stop offset="0.26316" stop-color="#219066"/><stop offset="0.26316" stop-color="#219066"/><stop offset="0.31579" stop-color="#219066"/><stop offset="0.31579" stop-color="#229066"/><stop offset="0.36842" stop-color="#229066"/><stop offset="0.36842" stop-color="#229166"/><stop offset="0.42105" stop-color="#229166"/><stop offset="0.42105" stop-color="#239166"/><stop offset="0.47368" stop-color="#239166"/><stop offset="0.47368" stop-color="#259266"/><stop offset="0.52632" stop-color="#259266"/><stop offset="0.52632" stop-color="#299466"/><stop offset="0.57895" stop-color="#299466"/><stop offset="0.57895" stop-color="#2e9666"/><stop offset="0.63158" stop-color="#2e9666"/><stop offset="0.63158" stop-color="#359a66"/><stop offset="0.68421" stop-color="#359a66"/><stop offset="0.68421" stop-color="#3e9e66"/><stop offset="0.73684" stop-color="#3e9e66"/><stop offset="0.73684" stop-color="#4aa566"/><stop offset="0.78947" stop-color="#4aa566"/><stop offset="0.78947" stop-color="#58ab66"/><stop offset="0.84211" stop-color="#58ab66"/><stop offset="0.84211" stop-color="#96ca66"/><stop offset="0.89474" stop-color="#96ca66"/><stop offset="0.89474" stop-color="#ffff66"/><stop offset="0.94737" stop-color="#ffff66"/><stop offset="0.94737" stop-color="#a3d166"/><stop offset="1.00000" stop-color="#a3d166"/></linearGradient><linearGradient id="cbr2" gradientUnits="userSpaceOnUse" x1="393.50" y1="0" x2="595.80" y2="0"><stop offset="0.00000" stop-color="#1f8f66"/><stop offset="0.05263" stop-color="#1f8f66"/><stop offset="0.05263" stop-color="#208f66"/><stop offset="0.10526" stop-color="#208f66"/><stop offset="0.10526" stop-color="#209066"/><stop offset="0.15789" stop-color="#209066"/><stop offset="0.15789" stop-color="#219066"/><stop offset="0.21053" stop-color="#219066"/><stop offset="0.21053" stop-color="#219066"/><stop offset="0.26316" stop-color="#219066"/><stop offset="0.26316" stop-color="#219066"/><stop offset="0.31579" stop-color="#219066"/><stop offset="0.31579" stop-color="#229066"/><stop offset="0.36842" stop-color="#229066"/><stop offset="0.36842" stop-color="#229166"/><stop offset="0.42105" stop-color="#229166"/><stop offset="0.42105" stop-color="#249166"/><stop offset="0.47368" stop-color="#249166"/><stop offset="0.47368" stop-color="#279366"/><stop offset="0.52632" stop-color="#279366"/><stop offset="0.52632" stop-color="#2c9566"/><stop offset="0.57895" stop-color="#2c9566"/><stop offset="0.57895" stop-color="#329966"/><stop offset="0.63158" stop-color="#329966"/><stop offset="0.63158" stop-color="#3c9d66"/><stop offset="0.68421" stop-color="#3c9d66"/><stop offset="0.68421" stop-color="#48a366"/><stop offset="0.73684" stop-color="#48a366"/><stop offset="0.73684" stop-color="#56ab66"/><stop offset="0.78947" stop-color="#56ab66"/><stop offset="0.78947" stop-color="#8cc666"/><stop offset="0.84211" stop-color="#8cc666"/><stop offset="0.84211" stop-color="#ffff66"/><stop offset="0.89474" stop-color="#ffff66"/><stop offset="0.89474" stop-color="#9ccd66"/><stop offset="0.94737" stop-color="#9ccd66"/><stop offset="0.94737" stop-color="#4da666"/><stop offset="1.00000" stop-color="#4da666"/></linearGradient><linearGradient id="cbr3" gradientUnits="userSpaceOnUse" x1="393.50" y1="0" x2="595.80" y2="0"><stop offset="0.00000" stop-color="#1f8f66"/><stop offset="0.05263" stop-color="#1f8f66"/><stop offset="0.05263" stop-color="#208f66"/><stop offset="0.10526" stop-color="#208f66"/><stop offset="0.10526" stop-color="#209066"/><stop offset="0.15789" stop-color="#209066"/><stop offset="0.15789" stop-color="#219066"/><stop offset="0.21053" stop-color="#219066"/><stop offset="0.21053" stop-color="#219066"/><stop offset="0.26316" stop-color="#219066"/><stop offset="0.26316" stop-color="#229066"/><stop offset="0.31579" stop-color="#229066"/><stop offset="0.31579" stop-color="#229166"/><stop offset="0.36842" stop-color="#229166"/><stop offset="0.36842" stop-color="#229166"/><stop offset="0.42105" stop-color="#229166"/><stop offset="0.42105" stop-color="#259266"/><stop offset="0.47368" stop-color="#259266"/><stop offset="0.47368" stop-color="#2a9466"/><stop offset="0.52632" stop-color="#2a9466"/><stop offset="0.52632" stop-color="#2f9766"/><stop offset="0.57895" stop-color="#2f9766"/><stop offset="0.57895" stop-color="#399c66"/><stop offset="0.63158" stop-color="#399c66"/><stop offset="0.63158" stop-color="#45a266"/><stop offset="0.68421" stop-color="#45a266"/><stop offset="0.68421" stop-color="#54aa66"/><stop offset="0.73684" stop-color="#54aa66"/><stop offset="0.73684" stop-color="#86c266"/><stop offset="0.78947" stop-color="#86c266"/><stop offset="0.78947" stop-color="#ffff66"/><stop offset="0.84211" stop-color="#ffff66"/><stop offset="0.84211" stop-color="#93c966"/><stop offset="0.89474" stop-color="#93c966"/><stop offset="0.89474" stop-color="#4ba566"/><stop offset="0.94737" stop-color="#4ba566"/><stop offset="0.94737" stop-color="#3b9d66"/><stop offset="1.00000" stop-color="#3b9d66"/></linearGradient><linearGradient id="cbr4" gradientUnits="userSpaceOnUse" x1="393.50" y1="0" x2="595.80" y2="0"><stop offset="0.00000" stop-color="#1f8f66"/><stop offset="0.05263" stop-color="#1f8f66"/><stop offset="0.05263" stop-color="#208f66"/><stop offset="0.10526" stop-color="#208f66"/><stop offset="0.10526" stop-color="#209066"/><stop offset="0.15789" stop-color="#209066"/><stop offset="0.15789" stop-color="#219066"/><stop offset="0.21053" stop-color="#219066"/><stop offset="0.21053" stop-color="#219066"/><stop offset="0.26316" stop-color="#219066"/><stop offset="0.26316" stop-color="#229066"/><stop offset="0.31579" stop-color="#229066"/><stop offset="0.31579" stop-color="#229166"/><stop offset="0.36842" stop-color="#229166"/><stop offset="0.36842" stop-color="#249166"/><stop offset="0.42105" stop-color="#249166"/><stop offset="0.42105" stop-color="#289366"/><stop offset="0.47368" stop-color="#289366"/><stop offset="0.47368" stop-color="#2d9666"/><stop offset="0.52632" stop-color="#2d9666"/><stop offset="0.52632" stop-color="#369b66"/><stop offset="0.57895" stop-color="#369b66"/><stop offset="0.57895" stop-color="#41a066"/><stop offset="0.63158" stop-color="#41a066"/><stop offset="0.63158" stop-color="#52a966"/><stop offset="0.68421" stop-color="#52a966"/><stop offset="0.68421" stop-color="#7ebf66"/><stop offset="0.73684" stop-color="#7ebf66"/><stop offset="0.73684" stop-color="#ffff66"/><stop offset="0.78947" stop-color="#ffff66"/><stop offset="0.78947" stop-color="#88c466"/><stop offset="0.84211" stop-color="#88c466"/><stop offset="0.84211" stop-color="#49a466"/><stop offset="0.89474" stop-color="#49a466"/><stop offset="0.89474" stop-color="#389c66"/><stop offset="0.94737" stop-color="#389c66"/><stop offset="0.94737" stop-color="#2f9766"/><stop offset="1.00000" stop-color="#2f9766"/></linearGradient><linearGradient id="cbr5" gradientUnits="userSpaceOnUse" x1="393.50" y1="0" x2="595.80" y2="0"><stop offset="0.00000" stop-color="#1f8f66"/><stop offset="0.05263" stop-color="#1f8f66"/><stop offset="0.05263" stop-color="#208f66"/><stop offset="0.10526" stop-color="#208f66"/><stop offset="0.10526" stop-color="#209066"/><stop offset="0.15789" stop-color="#209066"/><stop offset="0.15789" stop-color="#219066"/><stop offset="0.21053" stop-color="#219066"/><stop offset="0.21053" stop-color="#219066"/><stop offset="0.26316" stop-color="#219066"/><stop offset="0.26316" stop-color="#229066"/><stop offset="0.31579" stop-color="#229066"/><stop offset="0.31579" stop-color="#229166"/><stop offset="0.36842" stop-color="#229166"/><stop offset="0.36842" stop-color="#269266"/><stop offset="0.42105" stop-color="#269266"/><stop offset="0.42105" stop-color="#2b9566"/><stop offset="0.47368" stop-color="#2b9566"/><stop offset="0.47368" stop-color="#339966"/><stop offset="0.52632" stop-color="#339966"/><stop offset="0.52632" stop-color="#3e9f66"/><stop offset="0.57895" stop-color="#3e9f66"/><stop offset="0.57895" stop-color="#50a766"/><stop offset="0.63158" stop-color="#50a766"/><stop offset="0.63158" stop-color="#76ba66"/><stop offset="0.68421" stop-color="#76ba66"/><stop offset="0.68421" stop-color="#ffff66"/><stop offset="0.73684" stop-color="#ffff66"/><stop offset="0.73684" stop-color="#7cbe66"/><stop offset="0.78947" stop-color="#7cbe66"/><stop offset="0.78947" stop-color="#48a366"/><stop offset="0.84211" stop-color="#48a366"/><stop offset="0.84211" stop-color="#369a66"/><stop offset="0.89474" stop-color="#369a66"/><stop offset="0.89474" stop-color="#2d9666"/><stop offset="0.94737" stop-color="#2d9666"/><stop offset="0.94737" stop-color="#279366"/><stop offset="1.00000" stop-color="#279366"/></linearGradient><linearGradient id="cbr6" gradientUnits="userSpaceOnUse" x1="393.50" y1="0" x2="595.80" y2="0"><stop offset="0.00000" stop-color="#1f8f66"/><stop offset="0.05263" stop-color="#1f8f66"/><stop offset="0.05263" stop-color="#208f66"/><stop offset="0.10526" stop-color="#208f66"/><stop offset="0.10526" stop-color="#209066"/><stop offset="0.15789" stop-color="#209066"/><stop offset="0.15789" stop-color="#219066"/><stop offset="0.21053" stop-color="#219066"/><stop offset="0.21053" stop-color="#229066"/><stop offset="0.26316" stop-color="#229066"/><stop offset="0.26316" stop-color="#229166"/><stop offset="0.31579" stop-color="#229166"/><stop offset="0.31579" stop-color="#249166"/><stop offset="0.36842" stop-color="#249166"/><stop offset="0.36842" stop-color="#289466"/><stop offset="0.42105" stop-color="#289466"/><stop offset="0.42105" stop-color="#2f9766"/><stop offset="0.47368" stop-color="#2f9766"/><stop offset="0.47368" stop-color="#3c9d66"/><stop offset="0.52632" stop-color="#3c9d66"/><stop offset="0.52632" stop-color="#4da666"/><stop offset="0.57895" stop-color="#4da666"/><stop offset="0.57895" stop-color="#6cb566"/><stop offset="0.63158" stop-color="#6cb566"/><stop offset="0.63158" stop-color="#ffff66"/><stop offset="0.68421" stop-color="#ffff66"/><stop offset="0.68421" stop-color="#6eb766"/><stop offset="0.73684" stop-color="#6eb766"/><stop offset="0.73684" stop-color="#42a166"/><stop offset="0.78947" stop-color="#42a166"/><stop offset="0.78947" stop-color="#339966"/><stop offset="0.84211" stop-color="#339966"/><stop offset="0.84211" stop-color="#2b9566"/><stop offset="0.89474" stop-color="#2b9566"/><stop offset="0.89474" stop-color="#249166"/><stop offset="0.94737" stop-color="#249166"/><stop offset="0.94737" stop-color="#1d8e66"/><stop offset="1.00000" stop-color="#1d8e66"/></linearGradient><linearGradient id="cbr7" gradientUnits="userSpaceOnUse" x1="393.50" y1="0" x2="595.80" y2="0"><stop offset="0.00000" stop-color="#1f8f66"/><stop offset="0.05263" stop-color="#1f8f66"/><stop offset="0.05263" stop-color="#208f66"/><stop offset="0.10526" stop-color="#208f66"/><stop offset="0.10526" stop-color="#209066"/><stop offset="0.15789" stop-color="#209066"/><stop offset="0.15789" stop-color="#219066"/><stop offset="0.21053" stop-color="#219066"/><stop offset="0.21053" stop-color="#229066"/><stop offset="0.26316" stop-color="#229066"/><stop offset="0.26316" stop-color="#229166"/><stop offset="0.31579" stop-color="#229166"/><stop offset="0.31579" stop-color="#269266"/><stop offset="0.36842" stop-color="#269266"/><stop offset="0.36842" stop-color="#2d9666"/><stop offset="0.42105" stop-color="#2d9666"/><stop offset="0.42105" stop-color="#389c66"/><stop offset="0.47368" stop-color="#389c66"/><stop offset="0.47368" stop-color="#49a466"/><stop offset="0.52632" stop-color="#49a466"/><stop offset="0.52632" stop-color="#66b366"/><stop offset="0.57895" stop-color="#66b366"/><stop offset="0.57895" stop-color="#ffff66"/><stop offset="0.63158" stop-color="#ffff66"/><stop offset="0.63158" stop-color="#62b066"/><stop offset="0.68421" stop-color="#62b066"/><stop offset="0.68421" stop-color="#3d9e66"/><stop offset="0.73684" stop-color="#3d9e66"/><stop offset="0.73684" stop-color="#319866"/><stop offset="0.78947" stop-color="#319866"/><stop offset="0.78947" stop-color="#289466"/><stop offset="0.84211" stop-color="#289466"/><stop offset="0.84211" stop-color="#219066"/><stop offset="0.89474" stop-color="#219066"/><stop offset="0.89474" stop-color="#1b8d66"/><stop offset="0.94737" stop-color="#1b8d66"/><stop offset="0.94737" stop-color="#178b66"/><stop offset="1.00000" stop-color="#178b66"/></linearGradient><linearGradient id="cbr8" gradientUnits="userSpaceOnUse" x1="393.50" y1="0" x2="595.80" y2="0"><stop offset="0.00000" stop-color="#1f8f66"/><stop offset="0.05263" stop-color="#1f8f66"/><stop offset="0.05263" stop-color="#208f66"/><stop offset="0.10526" stop-color="#208f66"/><stop offset="0.10526" stop-color="#219066"/><stop offset="0.15789" stop-color="#219066"/><stop offset="0.15789" stop-color="#219066"/><stop offset="0.21053" stop-color="#219066"/><stop offset="0.21053" stop-color="#229166"/><stop offset="0.26316" stop-color="#229166"/><stop offset="0.26316" stop-color="#249166"/><stop offset="0.31579" stop-color="#249166"/><stop offset="0.31579" stop-color="#2a9466"/><stop offset="0.36842" stop-color="#2a9466"/><stop offset="0.36842" stop-color="#349a66"/><stop offset="0.42105" stop-color="#349a66"/><stop offset="0.42105" stop-color="#45a266"/><stop offset="0.47368" stop-color="#45a266"/><stop offset="0.47368" stop-color="#61b066"/><stop offset="0.52632" stop-color="#61b066"/><stop offset="0.52632" stop-color="#ffff66"/><stop offset="0.57895" stop-color="#ffff66"/><stop offset="0.57895" stop-color="#59ac66"/><stop offset="0.63158" stop-color="#59ac66"/><stop offset="0.63158" stop-color="#3b9d66"/><stop offset="0.68421" stop-color="#3b9d66"/><stop offset="0.68421" stop-color="#2e9766"/><stop offset="0.73684" stop-color="#2e9766"/><stop offset="0.73684" stop-color="#259266"/><stop offset="0.78947" stop-color="#259266"/><stop offset="0.78947" stop-color="#1d8e66"/><stop offset="0.84211" stop-color="#1d8e66"/><stop offset="0.84211" stop-color="#188c66"/><stop offset="0.89474" stop-color="#188c66"/><stop offset="0.89474" stop-color="#168a66"/><stop offset="0.94737" stop-color="#168a66"/><stop offset="0.94737" stop-color="#138966"/><stop offset="1.00000" stop-color="#138966"/></linearGradient><linearGradient id="cbr9" gradientUnits="userSpaceOnUse" x1="393.50" y1="0" x2="595.80" y2="0"><stop offset="0.00000" stop-color="#1f8f66"/><stop offset="0.05263" stop-color="#1f8f66"/><stop offset="0.05263" stop-color="#208f66"/><stop offset="0.10526" stop-color="#208f66"/><stop offset="0.10526" stop-color="#219066"/><stop offset="0.15789" stop-color="#219066"/><stop offset="0.15789" stop-color="#229066"/><stop offset="0.21053" stop-color="#229066"/><stop offset="0.21053" stop-color="#229166"/><stop offset="0.26316" stop-color="#229166"/><stop offset="0.26316" stop-color="#269366"/><stop offset="0.31579" stop-color="#269366"/><stop offset="0.31579" stop-color="#2f9766"/><stop offset="0.36842" stop-color="#2f9766"/><stop offset="0.36842" stop-color="#409f66"/><stop offset="0.42105" stop-color="#409f66"/><stop offset="0.42105" stop-color="#59ac66"/><stop offset="0.47368" stop-color="#59ac66"/><stop offset="0.47368" stop-color="#ffff66"/><stop offset="0.52632" stop-color="#ffff66"/><stop offset="0.52632" stop-color="#51a866"/><stop offset="0.57895" stop-color="#51a866"/><stop offset="0.57895" stop-color="#379b66"/><stop offset="0.63158" stop-color="#379b66"/><stop offset="0.63158" stop-color="#2b9566"/><stop offset="0.68421" stop-color="#2b9566"/><stop offset="0.68421" stop-color="#229066"/><stop offset="0.73684" stop-color="#229066"/><stop offset="0.73684" stop-color="#1a8d66"/><stop offset="0.78947" stop-color="#1a8d66"/><stop offset="0.78947" stop-color="#168b66"/><stop offset="0.84211" stop-color="#168b66"/><stop offset="0.84211" stop-color="#148966"/><stop offset="0.89474" stop-color="#148966"/><stop offset="0.89474" stop-color="#128966"/><stop offset="0.94737" stop-color="#128966"/><stop offset="0.94737" stop-color="#118866"/><stop offset="1.00000" stop-color="#118866"/></linearGradient><linearGradient id="cbr10" gradientUnits="userSpaceOnUse" x1="393.50" y1="0" x2="595.80" y2="0"><stop offset="0.00000" stop-color="#1f8f66"/><stop offset="0.05263" stop-color="#1f8f66"/><stop offset="0.05263" stop-color="#209066"/><stop offset="0.10526" stop-color="#209066"/><stop offset="0.10526" stop-color="#219066"/><stop offset="0.15789" stop-color="#219066"/><stop offset="0.15789" stop-color="#229066"/><stop offset="0.21053" stop-color="#229066"/><stop offset="0.21053" stop-color="#249166"/><stop offset="0.26316" stop-color="#249166"/><stop offset="0.26316" stop-color="#2c9566"/><stop offset="0.31579" stop-color="#2c9566"/><stop offset="0.31579" stop-color="#3c9d66"/><stop offset="0.36842" stop-color="#3c9d66"/><stop offset="0.36842" stop-color="#56ab66"/><stop offset="0.42105" stop-color="#56ab66"/><stop offset="0.42105" stop-color="#ffff66"/><stop offset="0.47368" stop-color="#ffff66"/><stop offset="0.47368" stop-color="#4da666"/><stop offset="0.52632" stop-color="#4da666"/><stop offset="0.52632" stop-color="#339966"/><stop offset="0.57895" stop-color="#339966"/><stop offset="0.57895" stop-color="#279366"/><stop offset="0.63158" stop-color="#279366"/><stop offset="0.63158" stop-color="#1d8e66"/><stop offset="0.68421" stop-color="#1d8e66"/><stop offset="0.68421" stop-color="#188b66"/><stop offset="0.73684" stop-color="#188b66"/><stop offset="0.73684" stop-color="#148a66"/><stop offset="0.78947" stop-color="#148a66"/><stop offset="0.78947" stop-color="#128966"/><stop offset="0.84211" stop-color="#128966"/><stop offset="0.84211" stop-color="#118866"/><stop offset="0.89474" stop-color="#118866"/><stop offset="0.89474" stop-color="#0f8766"/><stop offset="0.94737" stop-color="#0f8766"/><stop offset="0.94737" stop-color="#0f8766"/><stop offset="1.00000" stop-color="#0f8766"/></linearGradient><linearGradient id="cbr11" gradientUnits="userSpaceOnUse" x1="393.50" y1="0" x2="595.80" y2="0"><stop offset="0.00000" stop-color="#1f8f66"/><stop offset="0.05263" stop-color="#1f8f66"/><stop offset="0.05263" stop-color="#209066"/><stop offset="0.10526" stop-color="#209066"/><stop offset="0.10526" stop-color="#219066"/><stop offset="0.15789" stop-color="#219066"/><stop offset="0.15789" stop-color="#229166"/><stop offset="0.21053" stop-color="#229166"/><stop offset="0.21053" stop-color="#289366"/><stop offset="0.26316" stop-color="#289366"/><stop offset="0.26316" stop-color="#369b66"/><stop offset="0.31579" stop-color="#369b66"/><stop offset="0.31579" stop-color="#52a966"/><stop offset="0.36842" stop-color="#52a966"/><stop offset="0.36842" stop-color="#ffff66"/><stop offset="0.42105" stop-color="#ffff66"/><stop offset="0.42105" stop-color="#49a466"/><stop offset="0.47368" stop-color="#49a466"/><stop offset="0.47368" stop-color="#2f9766"/><stop offset="0.52632" stop-color="#2f9766"/><stop offset="0.52632" stop-color="#239166"/><stop offset="0.57895" stop-color="#239166"/><stop offset="0.57895" stop-color="#1a8c66"/><stop offset="0.63158" stop-color="#1a8c66"/><stop offset="0.63158" stop-color="#158a66"/><stop offset="0.68421" stop-color="#158a66"/><stop offset="0.68421" stop-color="#128966"/><stop offset="0.73684" stop-color="#128966"/><stop offset="0.73684" stop-color="#118866"/><stop offset="0.78947" stop-color="#118866"/><stop offset="0.78947" stop-color="#0f8766"/><stop offset="0.84211" stop-color="#0f8766"/><stop offset="0.84211" stop-color="#0e8766"/><stop offset="0.89474" stop-color="#0e8766"/><stop offset="0.89474" stop-color="#0d8666"/><stop offset="0.94737" stop-color="#0d8666"/><stop offset="0.94737" stop-color="#0c8666"/><stop offset="1.00000" stop-color="#0c8666"/></linearGradient><linearGradient id="cbr12" gradientUnits="userSpaceOnUse" x1="393.50" y1="0" x2="595.80" y2="0"><stop offset="0.00000" stop-color="#1f8f66"/><stop offset="0.05263" stop-color="#1f8f66"/><stop offset="0.05263" stop-color="#209066"/><stop offset="0.10526" stop-color="#209066"/><stop offset="0.10526" stop-color="#229066"/><stop offset="0.15789" stop-color="#229066"/><stop offset="0.15789" stop-color="#249166"/><stop offset="0.21053" stop-color="#249166"/><stop offset="0.21053" stop-color="#2f9766"/><stop offset="0.26316" stop-color="#2f9766"/><stop offset="0.26316" stop-color="#4da666"/><stop offset="0.31579" stop-color="#4da666"/><stop offset="0.31579" stop-color="#ffff66"/><stop offset="0.36842" stop-color="#ffff66"/><stop offset="0.36842" stop-color="#42a166"/><stop offset="0.42105" stop-color="#42a166"/><stop offset="0.42105" stop-color="#2b9566"/><stop offset="0.47368" stop-color="#2b9566"/><stop offset="0.47368" stop-color="#1d8e66"/><stop offset="0.52632" stop-color="#1d8e66"/><stop offset="0.52632" stop-color="#168b66"/><stop offset="0.57895" stop-color="#168b66"/><stop offset="0.57895" stop-color="#138966"/><stop offset="0.63158" stop-color="#138966"/><stop offset="0.63158" stop-color="#118866"/><stop offset="0.68421" stop-color="#118866"/><stop offset="0.68421" stop-color="#0f8766"/><stop offset="0.73684" stop-color="#0f8766"/><stop offset="0.73684" stop-color="#0e8666"/><stop offset="0.78947" stop-color="#0e8666"/><stop offset="0.78947" stop-color="#0d8666"/><stop offset="0.84211" stop-color="#0d8666"/><stop offset="0.84211" stop-color="#0c8566"/><stop offset="0.89474" stop-color="#0c8566"/><stop offset="0.89474" stop-color="#0b8566"/><stop offset="0.94737" stop-color="#0b8566"/><stop offset="0.94737" stop-color="#0b8566"/><stop offset="1.00000" stop-color="#0b8566"/></linearGradient><linearGradient id="cbr13" gradientUnits="userSpaceOnUse" x1="393.50" y1="0" x2="595.80" y2="0"><stop offset="0.00000" stop-color="#1f8f66"/><stop offset="0.05263" stop-color="#1f8f66"/><stop offset="0.05263" stop-color="#219066"/><stop offset="0.10526" stop-color="#219066"/><stop offset="0.10526" stop-color="#229166"/><stop offset="0.15789" stop-color="#229166"/><stop offset="0.15789" stop-color="#2a9466"/><stop offset="0.21053" stop-color="#2a9466"/><stop offset="0.21053" stop-color="#45a266"/><stop offset="0.26316" stop-color="#45a266"/><stop offset="0.26316" stop-color="#ffff66"/><stop offset="0.31579" stop-color="#ffff66"/><stop offset="0.31579" stop-color="#3b9d66"/><stop offset="0.36842" stop-color="#3b9d66"/><stop offset="0.36842" stop-color="#259266"/><stop offset="0.42105" stop-color="#259266"/><stop offset="0.42105" stop-color="#188c66"/><stop offset="0.47368" stop-color="#188c66"/><stop offset="0.47368" stop-color="#138966"/><stop offset="0.52632" stop-color="#138966"/><stop offset="0.52632" stop-color="#118866"/><stop offset="0.57895" stop-color="#118866"/><stop offset="0.57895" stop-color="#0f8766"/><stop offset="0.63158" stop-color="#0f8766"/><stop offset="0.63158" stop-color="#0d8666"/><stop offset="0.68421" stop-color="#0d8666"/><stop offset="0.68421" stop-color="#0c8666"/><stop offset="0.73684" stop-color="#0c8666"/><stop offset="0.73684" stop-color="#0b8566"/><stop offset="0.78947" stop-color="#0b8566"/><stop offset="0.78947" stop-color="#0b8566"/><stop offset="0.84211" stop-color="#0b8566"/><stop offset="0.84211" stop-color="#0a8566"/><stop offset="0.89474" stop-color="#0a8566"/><stop offset="0.89474" stop-color="#0a8466"/><stop offset="0.94737" stop-color="#0a8466"/><stop offset="0.94737" stop-color="#098466"/><stop offset="1.00000" stop-color="#098466"/></linearGradient><linearGradient id="cbr14" gradientUnits="userSpaceOnUse" x1="393.50" y1="0" x2="595.80" y2="0"><stop offset="0.00000" stop-color="#1f8f66"/><stop offset="0.05263" stop-color="#1f8f66"/><stop offset="0.05263" stop-color="#219066"/><stop offset="0.10526" stop-color="#219066"/><stop offset="0.10526" stop-color="#249166"/><stop offset="0.15789" stop-color="#249166"/><stop offset="0.15789" stop-color="#3c9d66"/><stop offset="0.21053" stop-color="#3c9d66"/><stop offset="0.21053" stop-color="#ffff66"/><stop offset="0.26316" stop-color="#ffff66"/><stop offset="0.26316" stop-color="#339966"/><stop offset="0.31579" stop-color="#339966"/><stop offset="0.31579" stop-color="#1d8e66"/><stop offset="0.36842" stop-color="#1d8e66"/><stop offset="0.36842" stop-color="#148a66"/><stop offset="0.42105" stop-color="#148a66"/><stop offset="0.42105" stop-color="#118866"/><stop offset="0.47368" stop-color="#118866"/><stop offset="0.47368" stop-color="#0f8766"/><stop offset="0.52632" stop-color="#0f8766"/><stop offset="0.52632" stop-color="#0d8666"/><stop offset="0.57895" stop-color="#0d8666"/><stop offset="0.57895" stop-color="#0b8566"/><stop offset="0.63158" stop-color="#0b8566"/><stop offset="0.63158" stop-color="#0b8566"/><stop offset="0.68421" stop-color="#0b8566"/><stop offset="0.68421" stop-color="#0a8466"/><stop offset="0.73684" stop-color="#0a8466"/><stop offset="0.73684" stop-color="#098466"/><stop offset="0.78947" stop-color="#098466"/><stop offset="0.78947" stop-color="#098466"/><stop offset="0.84211" stop-color="#098466"/><stop offset="0.84211" stop-color="#088466"/><stop offset="0.89474" stop-color="#088466"/><stop offset="0.89474" stop-color="#088466"/><stop offset="0.94737" stop-color="#088466"/><stop offset="0.94737" stop-color="#088366"/><stop offset="1.00000" stop-color="#088366"/></linearGradient><linearGradient id="cbr15" gradientUnits="userSpaceOnUse" x1="393.50" y1="0" x2="595.80" y2="0"><stop offset="0.00000" stop-color="#1f8f66"/><stop offset="0.05263" stop-color="#1f8f66"/><stop offset="0.05263" stop-color="#229066"/><stop offset="0.10526" stop-color="#229066"/><stop offset="0.10526" stop-color="#2f9766"/><stop offset="0.15789" stop-color="#2f9766"/><stop offset="0.15789" stop-color="#ffff66"/><stop offset="0.21053" stop-color="#ffff66"/><stop offset="0.21053" stop-color="#2b9566"/><stop offset="0.26316" stop-color="#2b9566"/><stop offset="0.26316" stop-color="#168b66"/><stop offset="0.31579" stop-color="#168b66"/><stop offset="0.31579" stop-color="#118866"/><stop offset="0.36842" stop-color="#118866"/><stop offset="0.36842" stop-color="#0e8666"/><stop offset="0.42105" stop-color="#0e8666"/><stop offset="0.42105" stop-color="#0c8566"/><stop offset="0.47368" stop-color="#0c8566"/><stop offset="0.47368" stop-color="#0b8566"/><stop offset="0.52632" stop-color="#0b8566"/><stop offset="0.52632" stop-color="#0a8466"/><stop offset="0.57895" stop-color="#0a8466"/><stop offset="0.57895" stop-color="#098466"/><stop offset="0.63158" stop-color="#098466"/><stop offset="0.63158" stop-color="#088466"/><stop offset="0.68421" stop-color="#088466"/><stop offset="0.68421" stop-color="#088366"/><stop offset="0.73684" stop-color="#088366"/><stop offset="0.73684" stop-color="#078366"/><stop offset="0.78947" stop-color="#078366"/><stop offset="0.78947" stop-color="#078366"/><stop offset="0.84211" stop-color="#078366"/><stop offset="0.84211" stop-color="#078366"/><stop offset="0.89474" stop-color="#078366"/><stop offset="0.89474" stop-color="#068366"/><stop offset="0.94737" stop-color="#068366"/><stop offset="0.94737" stop-color="#068366"/><stop offset="1.00000" stop-color="#068366"/></linearGradient><linearGradient id="cbr16" gradientUnits="userSpaceOnUse" x1="393.50" y1="0" x2="595.80" y2="0"><stop offset="0.00000" stop-color="#1f8f66"/><stop offset="0.05263" stop-color="#1f8f66"/><stop offset="0.05263" stop-color="#249166"/><stop offset="0.10526" stop-color="#249166"/><stop offset="0.10526" stop-color="#ffff66"/><stop offset="0.15789" stop-color="#ffff66"/><stop offset="0.15789" stop-color="#1d8e66"/><stop offset="0.21053" stop-color="#1d8e66"/><stop offset="0.21053" stop-color="#118866"/><stop offset="0.26316" stop-color="#118866"/><stop offset="0.26316" stop-color="#0d8666"/><stop offset="0.31579" stop-color="#0d8666"/><stop offset="0.31579" stop-color="#0b8566"/><stop offset="0.36842" stop-color="#0b8566"/><stop offset="0.36842" stop-color="#098466"/><stop offset="0.42105" stop-color="#098466"/><stop offset="0.42105" stop-color="#088466"/><stop offset="0.47368" stop-color="#088466"/><stop offset="0.47368" stop-color="#088366"/><stop offset="0.52632" stop-color="#088366"/><stop offset="0.52632" stop-color="#078366"/><stop offset="0.57895" stop-color="#078366"/><stop offset="0.57895" stop-color="#078366"/><stop offset="0.63158" stop-color="#078366"/><stop offset="0.63158" stop-color="#068366"/><stop offset="0.68421" stop-color="#068366"/><stop offset="0.68421" stop-color="#068266"/><stop offset="0.73684" stop-color="#068266"/><stop offset="0.73684" stop-color="#068266"/><stop offset="0.78947" stop-color="#068266"/><stop offset="0.78947" stop-color="#068266"/><stop offset="0.84211" stop-color="#068266"/><stop offset="0.84211" stop-color="#058266"/><stop offset="0.89474" stop-color="#058266"/><stop offset="0.89474" stop-color="#058266"/><stop offset="0.94737" stop-color="#058266"/><stop offset="0.94737" stop-color="#058266"/><stop offset="1.00000" stop-color="#058266"/></linearGradient><linearGradient id="cbr17" gradientUnits="userSpaceOnUse" x1="393.50" y1="0" x2="595.80" y2="0"><stop offset="0.00000" stop-color="#1f8f66"/><stop offset="0.05263" stop-color="#1f8f66"/><stop offset="0.05263" stop-color="#ffff66"/><stop offset="0.10526" stop-color="#ffff66"/><stop offset="0.10526" stop-color="#118866"/><stop offset="0.15789" stop-color="#118866"/><stop offset="0.15789" stop-color="#0b8566"/><stop offset="0.21053" stop-color="#0b8566"/><stop offset="0.21053" stop-color="#088466"/><stop offset="0.26316" stop-color="#088466"/><stop offset="0.26316" stop-color="#078366"/><stop offset="0.31579" stop-color="#078366"/><stop offset="0.31579" stop-color="#068366"/><stop offset="0.36842" stop-color="#068366"/><stop offset="0.36842" stop-color="#068266"/><stop offset="0.42105" stop-color="#068266"/><stop offset="0.42105" stop-color="#058266"/><stop offset="0.47368" stop-color="#058266"/><stop offset="0.47368" stop-color="#058266"/><stop offset="0.52632" stop-color="#058266"/><stop offset="0.52632" stop-color="#058266"/><stop offset="0.57895" stop-color="#058266"/><stop offset="0.57895" stop-color="#058266"/><stop offset="0.63158" stop-color="#058266"/><stop offset="0.63158" stop-color="#058266"/><stop offset="0.68421" stop-color="#058266"/><stop offset="0.68421" stop-color="#058266"/><stop offset="0.73684" stop-color="#058266"/><stop offset="0.73684" stop-color="#048266"/><stop offset="0.78947" stop-color="#048266"/><stop offset="0.78947" stop-color="#048266"/><stop offset="0.84211" stop-color="#048266"/><stop offset="0.84211" stop-color="#048266"/><stop offset="0.89474" stop-color="#048266"/><stop offset="0.89474" stop-color="#048266"/><stop offset="0.94737" stop-color="#048266"/><stop offset="0.94737" stop-color="#048266"/><stop offset="1.00000" stop-color="#048266"/></linearGradient><linearGradient id="cbr18" gradientUnits="userSpaceOnUse" x1="393.50" y1="0" x2="595.80" y2="0"><stop offset="0.00000" stop-color="#ffff66"/><stop offset="0.05263" stop-color="#ffff66"/><stop offset="0.05263" stop-color="#038166"/><stop offset="0.10526" stop-color="#038166"/><stop offset="0.10526" stop-color="#038166"/><stop offset="0.15789" stop-color="#038166"/><stop offset="0.15789" stop-color="#038166"/><stop offset="0.21053" stop-color="#038166"/><stop offset="0.21053" stop-color="#038166"/><stop offset="0.26316" stop-color="#038166"/><stop offset="0.26316" stop-color="#038166"/><stop offset="0.31579" stop-color="#038166"/><stop offset="0.31579" stop-color="#038166"/><stop offset="0.36842" stop-color="#038166"/><stop offset="0.36842" stop-color="#038166"/><stop offset="0.42105" stop-color="#038166"/><stop offset="0.42105" stop-color="#038166"/><stop offset="0.47368" stop-color="#038166"/><stop offset="0.47368" stop-color="#038166"/><stop offset="0.52632" stop-color="#038166"/><stop offset="0.52632" stop-color="#038166"/><stop offset="0.57895" stop-color="#038166"/><stop offset="0.57895" stop-color="#038166"/><stop offset="0.63158" stop-color="#038166"/><stop offset="0.63158" stop-color="#038166"/><stop offset="0.68421" stop-color="#038166"/><stop offset="0.68421" stop-color="#038166"/><stop offset="0.73684" stop-color="#038166"/><stop offset="0.73684" stop-color="#038166"/><stop offset="0.78947" stop-color="#038166"/><stop offset="0.78947" stop-color="#038166"/><stop offset="0.84211" stop-color="#038166"/><stop offset="0.84211" stop-color="#038166"/><stop offset="0.89474" stop-color="#038166"/><stop offset="0.89474" stop-color="#038166"/><stop offset="0.94737" stop-color="#038166"/><stop offset="0.94737" stop-color="#038166"/><stop offset="1.00000" stop-color="#038166"/></linearGradient></defs>
<clipPath id="cb"><rect x="393.50" y="26.00" width="202.30" height="184.70"/></clipPath>
<g clip-path="url(#cb)">
<rect x="392.50" y="25.00" width="204.30" height="11.72" fill="url(#cbr0)"/>
<rect x="392.50" y="35.72" width="204.30" height="10.72" fill="url(#cbr1)"/>
<rect x="392.50" y="45.44" width="204.30" height="10.72" fill="url(#cbr2)"/>
<rect x="392.50" y="55.16" width="204.30" height="10.72" fill="url(#cbr3)"/>
<rect x="392.50" y="64.88" width="204.30" height="10.72" fill="url(#cbr4)"/>
<rect x="392.50" y="74.61" width="204.30" height="10.72" fill="url(#cbr5)"/>
<rect x="392.50" y="84.33" width="204.30" height="10.72" fill="url(#cbr6)"/>
<rect x="392.50" y="94.05" width="204.30" height="10.72" fill="url(#cbr7)"/>
<rect x="392.50" y="103.77" width="204.30" height="10.72" fill="url(#cbr8)"/>
<rect x="392.50" y="113.49" width="204.30" height="10.72" fill="url(#cbr9)"/>
<rect x="392.50" y="123.21" width="204.30" height="10.72" fill="url(#cbr10)"/>
<rect x="392.50" y="132.93" width="204.30" height="10.72" fill="url(#cbr11)"/>
<rect x="392.50" y="142.65" width="204.30" height="10.72" fill="url(#cbr12)"/>
<rect x="392.50" y="152.37" width="204.30" height="10.72" fill="url(#cbr13)"/>
<rect x="392.50" y="162.09" width="204.30" height="10.72" fill="url(#cbr14)"/>
<rect x="392.50" y="171.82" width="204.30" height="10.72" fill="url(#cbr15)"/>
<rect x="392.50" y="181.54" width="204.30" height="10.72" fill="url(#cbr16)"/>
<rect x="392.50" y="191.26" width="204.30" height="10.72" fill="url(#cbr17)"/>
<rect x="392.50" y="200.98" width="204.30" height="10.72" fill="url(#cbr18)"/>
</g>
<rect x="52.00" y="26.00" width="209.00" height="184.40" fill="none" stroke="#262626" stroke-opacity="0.35" stroke-width="0.6"/>
<rect x="393.50" y="26.00" width="202.30" height="184.70" fill="none" stroke="#262626" stroke-opacity="0.35" stroke-width="0.6"/>
<rect x="272.70" y="26.50" width="17.70" height="183.20" fill="url(#ga)" stroke="#5a5a5a" stroke-width="1.0"/>
<rect x="613.50" y="26.50" width="17.00" height="183.20" fill="url(#gb)" stroke="#262626" stroke-width="1.0"/>
<line x1="287.90" y1="162.53" x2="289.90" y2="162.53" stroke="#262626" stroke-width="0.9"/>
<line x1="287.90" y1="114.86" x2="289.90" y2="114.86" stroke="#262626" stroke-width="0.9"/>
<line x1="287.90" y1="67.19" x2="289.90" y2="67.19" stroke="#262626" stroke-width="0.9"/>
<line x1="628.00" y1="190.05" x2="630.00" y2="190.05" stroke="#262626" stroke-width="0.9"/>
<line x1="628.00" y1="166.61" x2="630.00" y2="166.61" stroke="#262626" stroke-width="0.9"/>
<line x1="628.00" y1="143.18" x2="630.00" y2="143.18" stroke="#262626" stroke-width="0.9"/>
<line x1="628.00" y1="119.74" x2="630.00" y2="119.74" stroke="#262626" stroke-width="0.9"/>
<line x1="628.00" y1="96.31" x2="630.00" y2="96.31" stroke="#262626" stroke-width="0.9"/>
<line x1="628.00" y1="72.87" x2="630.00" y2="72.87" stroke="#262626" stroke-width="0.9"/>
<line x1="628.00" y1="49.44" x2="630.00" y2="49.44" stroke="#262626" stroke-width="0.9"/>
<text x="38.56" y="31.40" font-size="16" text-anchor="start" >1</text>
<text x="26.21" y="68.28" font-size="16" text-anchor="start" >0.8</text>
<text x="26.08" y="105.16" font-size="16" text-anchor="start" >0.6</text>
<text x="25.85" y="142.04" font-size="16" text-anchor="start" >0.4</text>
<text x="26.48" y="178.92" font-size="16" text-anchor="start" >0.2</text>
<text x="379.31" y="216.10" font-size="16" text-anchor="start" >0</text>
<text x="367.58" y="179.16" font-size="16" text-anchor="start" >0.2</text>
<text x="366.95" y="142.22" font-size="16" text-anchor="start" >0.4</text>
<text x="367.18" y="105.28" font-size="16" text-anchor="start" >0.6</text>
<text x="367.31" y="68.34" font-size="16" text-anchor="start" >0.8</text>
<text x="379.66" y="31.40" font-size="16" text-anchor="start" >1</text>
<text x="83.54" y="229.90" font-size="16" text-anchor="start" >0.2</text>
<text x="125.02" y="229.90" font-size="16" text-anchor="start" >0.4</text>
<text x="166.93" y="229.90" font-size="16" text-anchor="start" >0.6</text>
<text x="208.80" y="229.90" font-size="16" text-anchor="start" >0.8</text>
<text x="255.48" y="229.90" font-size="16" text-anchor="start" >1</text>
<text x="389.10" y="229.90" font-size="16" text-anchor="start" >0</text>
<text x="423.70" y="229.90" font-size="16" text-anchor="start" >0.2</text>
<text x="463.84" y="229.90" font-size="16" text-anchor="start" >0.4</text>
<text x="504.41" y="229.90" font-size="16" text-anchor="start" >0.6</text>
<text x="544.94" y="229.90" font-size="16" text-anchor="start" >0.8</text>
<text x="590.28" y="229.90" font-size="16" text-anchor="start" >1</text>
<text transform="translate(294.90,215.50) scale(0.9550,1)" x="-0.57" y="0" font-size="15">0</text>
<text transform="translate(294.90,167.83) scale(0.9550,1)" x="-0.57" y="0" font-size="15">0.05</text>
<text transform="translate(294.90,120.16) scale(0.9550,1)" x="-0.57" y="0" font-size="15">0.1</text>
<text transform="translate(294.90,72.49) scale(0.9550,1)" x="-0.57" y="0" font-size="15">0.15</text>
<text transform="translate(635.90,195.35) scale(0.9550,1)" x="-0.57" y="0" font-size="15">0.05</text>
<text transform="translate(635.90,171.91) scale(0.9550,1)" x="-0.57" y="0" font-size="15">0.1</text>
<text transform="translate(635.90,148.48) scale(0.9550,1)" x="-0.57" y="0" font-size="15">0.15</text>
<text transform="translate(635.90,125.04) scale(0.9550,1)" x="-0.57" y="0" font-size="15">0.2</text>
<text transform="translate(635.90,101.61) scale(0.9550,1)" x="-0.57" y="0" font-size="15">0.25</text>
<text transform="translate(635.90,78.17) scale(0.9550,1)" x="-0.57" y="0" font-size="15">0.3</text>
<text transform="translate(635.90,54.74) scale(0.9550,1)" x="-0.57" y="0" font-size="15">0.35</text>
<text x="143.17" y="15.80" font-size="23.5">(</text>
<text transform="translate(151.40,15.80) scale(1.1392,1)" x="-0.77" y="0" font-size="22">a</text>
<text x="161.84" y="15.80" font-size="23.5">)</text>
<text x="480.87" y="15.80" font-size="23.5">(</text>
<text transform="translate(488.80,15.80) scale(1.0037,1)" x="-0.00" y="0" font-size="22">b</text>
<text x="500.14" y="15.80" font-size="23.5">)</text>
<text transform="translate(273.60,16.00) scale(1.1056,1)" x="-0.84" y="0" font-size="22">&#916;</text>
<text x="291.38" y="16.00" font-size="21">(</text>
<text x="298.08" y="16.00" font-size="21">e</text>
<text x="305.06" y="16.00" font-size="21">V</text>
<text x="320.92" y="16.00" font-size="21">)</text>
<text x="554.66" y="15.80" font-size="21">max</text>
<text x="589.88" y="15.80" font-size="21">(</text>
<text x="597.42" y="15.80" font-size="21">|</text>
<text x="603.84" y="15.80" font-size="21" font-style="italic">D</text>
<text transform="translate(619.00,18.90) scale(1.1485,1)" x="0.16" y="0" font-size="13.5" font-style="italic">xz</text>
<text x="634.32" y="15.80" font-size="21">|</text>
<text x="638.32" y="15.80" font-size="21">)</text>
<text x="646.78" y="15.80" font-size="21">(</text>
<text x="652.82" y="15.80" font-size="21">nm</text>
<text x="680.22" y="15.80" font-size="21">)</text>
<text transform="translate(83.90,68.00) scale(1.0089,1)" x="-0.63" y="0" font-size="22">NI</text>
<text transform="translate(209.20,178.40) scale(1.0431,1)" x="-0.90" y="0" font-size="22">CI</text>
<text transform="translate(424.10,68.00) scale(1.0089,1)" x="-0.63" y="0" font-size="22">NI</text>
<text transform="translate(545.70,178.40) scale(1.0431,1)" x="-0.90" y="0" font-size="22">CI</text>
<text x="109.03" y="252.00" font-size="21" font-style="italic">T</text>
<text x="121.96" y="254.80" font-size="14.5">2</text>
<text x="138.21" y="252.30" font-size="22.5">(</text>
<text x="146.04" y="252.00" font-size="21" font-style="italic">&#295;</text>
<text x="168.18" y="252.00" font-size="21">e</text>
<text x="177.56" y="252.00" font-size="21">V</text>
<text x="194.07" y="252.30" font-size="22.5">)</text>
<text x="446.43" y="252.00" font-size="21" font-style="italic">T</text>
<text x="459.36" y="254.80" font-size="14.5">2</text>
<text x="475.61" y="252.30" font-size="22.5">(</text>
<text x="483.44" y="252.00" font-size="21" font-style="italic">&#295;</text>
<text x="505.58" y="252.00" font-size="21">e</text>
<text x="514.96" y="252.00" font-size="21">V</text>
<text x="531.47" y="252.30" font-size="22.5">)</text>
<g transform="translate(15.6,163.5) rotate(-90)"><text x="-1.37" y="0.00" font-size="21" font-style="italic">T</text><text x="10.93" y="2.80" font-size="14.5">1</text><text x="27.81" y="0.30" font-size="22.5">(</text><text x="35.64" y="0.00" font-size="21" font-style="italic">&#295;</text><text x="57.78" y="0.00" font-size="21">e</text><text x="67.16" y="0.00" font-size="21">V</text><text x="83.67" y="0.30" font-size="22.5">)</text></g>
<g transform="translate(355.7,163.5) rotate(-90)"><text x="-1.37" y="0.00" font-size="21" font-style="italic">T</text><text x="10.93" y="2.80" font-size="14.5">1</text><text x="27.81" y="0.30" font-size="22.5">(</text><text x="35.64" y="0.00" font-size="21" font-style="italic">&#295;</text><text x="57.78" y="0.00" font-size="21">e</text><text x="67.16" y="0.00" font-size="21">V</text><text x="83.67" y="0.30" font-size="22.5">)</text></g>
<line x1="159.70" y1="257.00" x2="167.70" y2="236.20" stroke="#000" stroke-width="1.05"/>
<line x1="497.10" y1="257.00" x2="505.10" y2="236.20" stroke="#000" stroke-width="1.05"/>
<g transform="translate(15.6,163.5) rotate(-90)"><line x1="49.30" y1="5.00" x2="57.30" y2="-15.80" stroke="#000" stroke-width="1.05"/></g>
<g transform="translate(355.7,163.5) rotate(-90)"><line x1="49.30" y1="5.00" x2="57.30" y2="-15.80" stroke="#000" stroke-width="1.05"/></g>
</svg>
</body></html>
